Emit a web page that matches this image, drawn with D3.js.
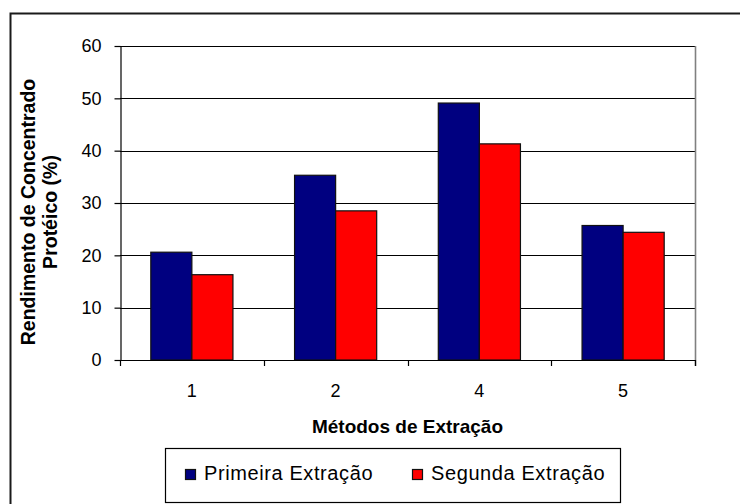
<!DOCTYPE html>
<html>
<head>
<meta charset="utf-8">
<script src="https://cdn.jsdelivr.net/npm/d3@7/dist/d3.min.js"></script>
<style>
  html, body { margin: 0; padding: 0; background: #fff; }
  svg { display: block; font-family: "Liberation Sans", Arial, sans-serif; }
</style>
</head>
<body>
<svg id="chart" width="740" height="504"></svg>
<script>
// Extraction methods and protein concentrate yield (%) for each extraction round
const categories = ["1", "2", "4", "5"];
const seriesNames = ["Primeira Extração", "Segunda Extração"];
const primeira = [20.6, 35.3, 49.1, 25.7];
const segunda = [16.3, 28.5, 41.3, 24.4];
const yTicks = [0, 10, 20, 30, 40, 50, 60];
const colors = ["#000080", "#FF0000"];

const svg = d3.select("#chart");
const plot = { left: 120, right: 695, top: 46, bottom: 360 };

// Outer frame (only the top and left edges fall inside the view)
svg.append("path")
  .attr("d", "M10.5,504 V13.5 H740")
  .attr("fill", "none")
  .attr("stroke", "#1a1a1a")
  .attr("stroke-width", 2);

const y = d3.scaleLinear().domain([0, 60]).range([plot.bottom, plot.top]);
const x0 = d3.scaleBand().domain(categories).range([plot.left, plot.right]).paddingInner(0).paddingOuter(0);
const x1 = d3.scaleBand().domain(seriesNames).range([0, x0.bandwidth()]).paddingInner(0).paddingOuter(0.75);

// Horizontal gridlines
svg.append("g")
  .selectAll("line")
  .data(yTicks.filter(d => d > 0))
  .join("line")
  .attr("x1", plot.left).attr("x2", plot.right)
  .attr("y1", d => Math.round(y(d)) + 0.5).attr("y2", d => Math.round(y(d)) + 0.5)
  .attr("stroke", "#000")
  .attr("stroke-width", 1.2);

// Right edge of plot area
svg.append("line")
  .attr("x1", plot.right + 0.5).attr("x2", plot.right + 0.5)
  .attr("y1", plot.top).attr("y2", plot.bottom + 6)
  .attr("stroke", "#808080")
  .attr("stroke-width", 1.6);

// Bars
const rows = categories.map((c, i) => ({ cat: c, values: [primeira[i], segunda[i]] }));
svg.append("g")
  .selectAll("g")
  .data(rows)
  .join("g")
  .attr("transform", d => `translate(${x0(d.cat)},0)`)
  .selectAll("rect")
  .data(d => d.values.map((v, k) => ({ name: seriesNames[k], value: v, k })))
  .join("rect")
  .attr("x", d => x1(d.name))
  .attr("y", d => y(d.value))
  .attr("width", x1.bandwidth())
  .attr("height", d => y(0) - y(d.value))
  .attr("fill", d => colors[d.k])
  .attr("stroke", "#111")
  .attr("stroke-width", 1.2);

// Y axis
const yAxis = svg.append("g")
  .attr("transform", `translate(${plot.left + 0.5},0)`)
  .call(d3.axisLeft(y).tickValues(yTicks).tickSize(6).tickPadding(13).tickSizeOuter(0));
yAxis.select(".domain").attr("stroke", "#000").attr("stroke-width", 1.2);
yAxis.selectAll(".tick line").attr("stroke", "#000").attr("stroke-width", 1.2);
yAxis.selectAll(".tick text")
  .attr("font-size", 18)
  .attr("font-family", "'Liberation Sans', Arial, sans-serif")
  .attr("fill", "#000");

// X axis: baseline, category boundary ticks and labels
svg.append("line")
  .attr("x1", plot.left).attr("x2", plot.right)
  .attr("y1", plot.bottom + 0.5).attr("y2", plot.bottom + 0.5)
  .attr("stroke", "#000").attr("stroke-width", 1.2);
const bounds = categories.map(c => x0(c)).concat([plot.right]);
svg.append("g")
  .selectAll("line")
  .data(bounds)
  .join("line")
  .attr("x1", d => Math.round(d) + 0.5).attr("x2", d => Math.round(d) + 0.5)
  .attr("y1", plot.bottom).attr("y2", plot.bottom + 6)
  .attr("stroke", "#000").attr("stroke-width", 1.2);
svg.append("g")
  .selectAll("text")
  .data(categories)
  .join("text")
  .attr("x", d => x0(d) + x0.bandwidth() / 2)
  .attr("y", 397)
  .attr("text-anchor", "middle")
  .attr("font-size", 18)
  .text(d => d);

// Axis titles
svg.append("text")
  .attr("x", (plot.left + plot.right) / 2)
  .attr("y", 433)
  .attr("text-anchor", "middle")
  .attr("font-size", 19)
  .attr("font-weight", "bold")
  .text("Métodos de Extração");

const yTitle = svg.append("text")
  .attr("transform", "translate(0,212) rotate(-90)")
  .attr("text-anchor", "middle")
  .attr("font-size", 19.5)
  .attr("font-weight", "bold");
yTitle.append("tspan").attr("x", 0).attr("y", 35).text("Rendimento de Concentrado");
yTitle.append("tspan").attr("x", 0).attr("y", 57).text("Protéico (%)");

// Legend
const legend = svg.append("g");
legend.append("rect")
  .attr("x", 165.5).attr("y", 448.5)
  .attr("width", 455).attr("height", 54)
  .attr("fill", "#fff")
  .attr("stroke", "#000").attr("stroke-width", 1.2);
const legendX = [185, 412];
seriesNames.forEach((name, k) => {
  legend.append("rect")
    .attr("x", legendX[k] + 0.5).attr("y", 469.5)
    .attr("width", 10).attr("height", 10)
    .attr("fill", colors[k])
    .attr("stroke", "#111").attr("stroke-width", 1.2);
  legend.append("text")
    .attr("x", legendX[k] + 19)
    .attr("y", 480)
    .attr("font-size", 20)
    .attr("letter-spacing", 0.6)
    .text(name);
});
</script>
</body>
</html>
